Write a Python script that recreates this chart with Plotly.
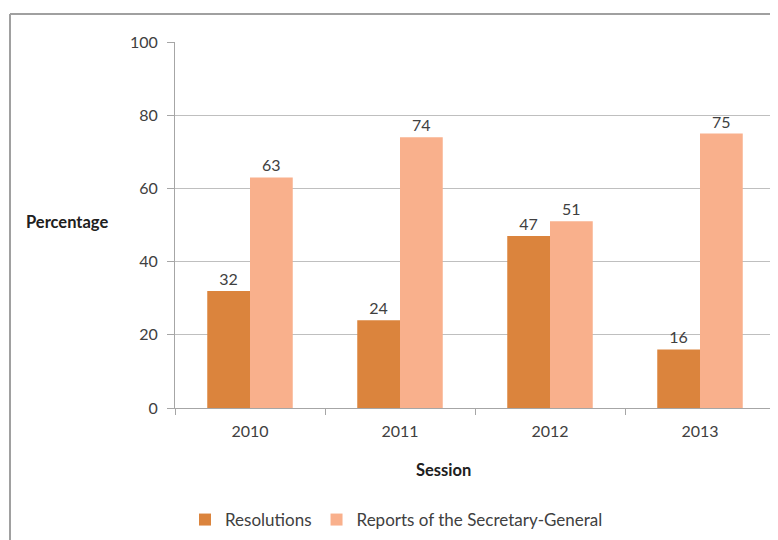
import plotly.graph_objects as go

sessions = ["2010", "2011", "2012", "2013"]
resolutions = [32, 24, 47, 16]
reports = [63, 74, 51, 75]
series_names = ["Resolutions", "Reports of the Secretary-General"]
y_ticks = [0, 20, 40, 60, 80, 100]

FONT = "Lato, 'Open Sans', sans-serif"
TXT = "#404040"

fig = go.Figure()
fig.add_trace(go.Bar(
    x=sessions, y=resolutions, name=series_names[0],
    marker=dict(color="#DB843D", line=dict(width=0)),
    text=[str(v) for v in resolutions], textposition="outside",
    textfont=dict(size=16, color=TXT, family=FONT), cliponaxis=False,
))
fig.add_trace(go.Bar(
    x=sessions, y=reports, name=series_names[1],
    marker=dict(color="#F9B08C", line=dict(width=0)),
    text=[str(v) for v in reports], textposition="outside",
    textfont=dict(size=16, color=TXT, family=FONT), cliponaxis=False,
))

# page offset (browser body margin) in screenshot pixels
OX, OY = 8, 8
W, H = 778, 540
L, T = 175 - OX, 42 - OY
PR, PB = 775 - OX, 408 - OY
R, B = W - PR, H - PB
pw, ph = PR - L, PB - T

def px(xs):
    return (xs - OX - L) / pw

def py(ys):
    return (PB - (ys - OY)) / ph

fig.update_layout(
    width=W, height=H,
    margin=dict(l=L, r=R, t=T, b=B, autoexpand=False),
    paper_bgcolor="white", plot_bgcolor="white",
    barmode="group", bargap=0.43, bargroupgap=0,
    font=dict(family=FONT, size=16, color=TXT),
    showlegend=True,
    legend=dict(orientation="h", x=px(185), xanchor="left", y=py(520), yanchor="middle",
                font=dict(size=17, color=TXT, family=FONT), itemwidth=30,
                traceorder="normal"),
    xaxis=dict(
        type="category", showgrid=False, showline=True, linecolor="#A6A6A6", linewidth=1,
        ticks="outside", tickson="boundaries", ticklen=6, tickcolor="#A6A6A6",
        ticklabelstandoff=9,
        tickfont=dict(size=16, color=TXT, family=FONT),
    ),
    yaxis=dict(
        range=[0, 100], tickvals=y_ticks, showgrid=True, gridcolor="#BFBFBF", gridwidth=1,
        showline=True, linecolor="#A6A6A6", linewidth=1, zeroline=False,
        ticks="outside", ticklen=7, tickcolor="#A6A6A6",
        ticklabelstandoff=6,
        tickfont=dict(size=16, color=TXT, family=FONT),
    ),
    annotations=[
        dict(text="<b>Percentage</b>", xref="paper", yref="paper", x=px(24), y=py(222),
             xanchor="left", yanchor="middle", showarrow=False,
             font=dict(size=16.5, color="#202020", family=FONT)),
        dict(text="<b>Session</b>", xref="paper", yref="paper", x=px(443), y=py(470),
             xanchor="center", yanchor="middle", showarrow=False,
             font=dict(size=16.5, color="#202020", family=FONT)),
    ],
    shapes=[
        dict(type="line", xref="paper", yref="paper", x0=px(10), x1=px(10), y0=py(14), y1=py(560),
             line=dict(color="#A0A0A0", width=2)),
        dict(type="line", xref="paper", yref="paper", x0=px(10), x1=px(800), y0=py(14), y1=py(14),
             line=dict(color="#A0A0A0", width=2)),
    ],
)

fig.write_html("out.html")
